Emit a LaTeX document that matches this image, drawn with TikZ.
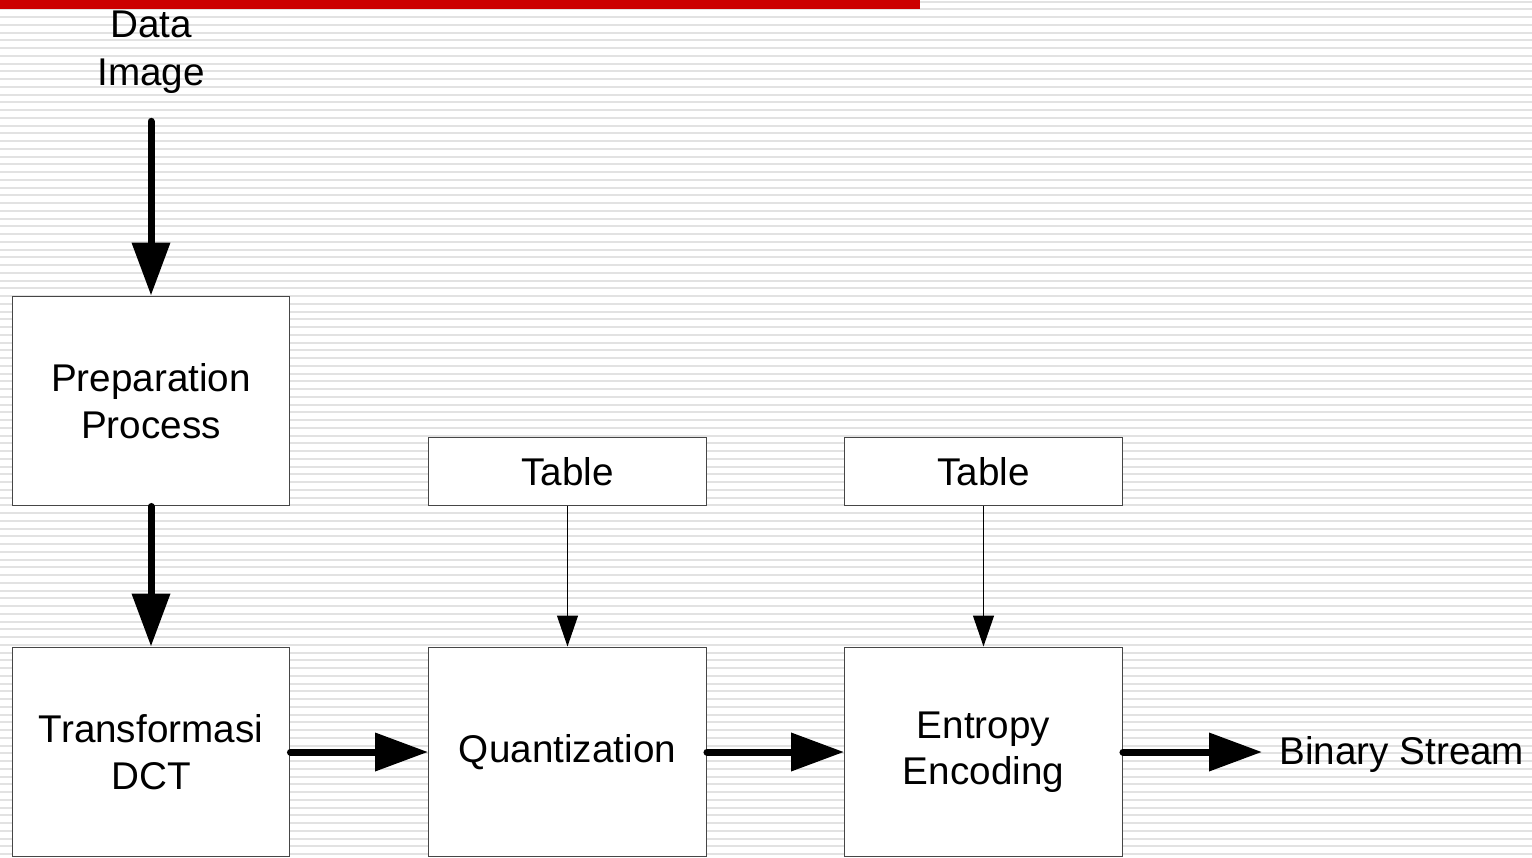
\documentclass[tikz,border=0pt]{standalone}
\usepackage{fontspec}
\setmainfont{Liberation Sans}
\usetikzlibrary{arrows.meta}
\definecolor{stripeColor}{RGB}{226,226,226}
\definecolor{barColor}{RGB}{204,0,0}
\definecolor{edgeColor}{RGB}{70,70,70}

\begin{document}
\begin{tikzpicture}[x=0.02cm, y=-0.02cm,
    every node/.style={font=\fontsize{22}{26.5}\selectfont},
    stage/.style={draw=edgeColor, line width=0.02cm, fill=white, minimum width=5.56cm, minimum height=4.2cm, align=center, inner sep=0pt},
    tbl/.style={draw=edgeColor, line width=0.02cm, fill=white, minimum width=5.56cm, minimum height=1.38cm, inner sep=0pt},
    bigarrow/.style={line width=0.14cm, line cap=round, -{Triangle[length=1.06cm, width=0.74cm]}},
    smallarrow/.style={line width=0.025cm, -{Triangle[length=0.62cm, width=0.42cm]}}]
    % background
    \useasboundingbox (0,0) rectangle (1532,858);
    \fill[white] (0,0) rectangle (1532,858);
    \foreach \k in {0,...,110}
        \draw[stripeColor, line width=0.04cm] (0,{1.7+7.75*\k}) -- (1532,{1.7+7.75*\k});
    \fill[barColor] (0,0) rectangle (920,9);
    % blocks
    \node[align=center, inner sep=0pt, font=\fontsize{22}{27.5}\selectfont] (data) at (151,52) {Data\\Image};
    \node[stage] (prep) at (151,401) {Preparation\\Process};
    \node[stage] (dct) at (151,752) {Transformasi\\DCT};
    \node[stage] (quant) at (567.5,752) {Quantization};
    \node[stage] (entropy) at (983.5,752) {Entropy\\Encoding};
    \node[tbl] (tabq) at (567.5,471.5) {Table};
    \node[tbl] (tabe) at (983.5,471.5) {Table};
    \node[anchor=west, inner sep=0pt] (stream) at (1279,755) {Binary Stream};
    % connectors
    \draw[bigarrow, shorten <=0.55cm] (data.south) -- (prep.north);
    \draw[bigarrow] (prep.south) -- (dct.north);
    \draw[bigarrow] (dct.east) -- (quant.west);
    \draw[bigarrow] (quant.east) -- (entropy.west);
    \draw[bigarrow, shorten >=0.34cm] (entropy.east) -- (stream.west |- entropy.east);
    \draw[smallarrow] (tabq.south) -- (quant.north);
    \draw[smallarrow] (tabe.south) -- (entropy.north);
\end{tikzpicture}
\end{document}
